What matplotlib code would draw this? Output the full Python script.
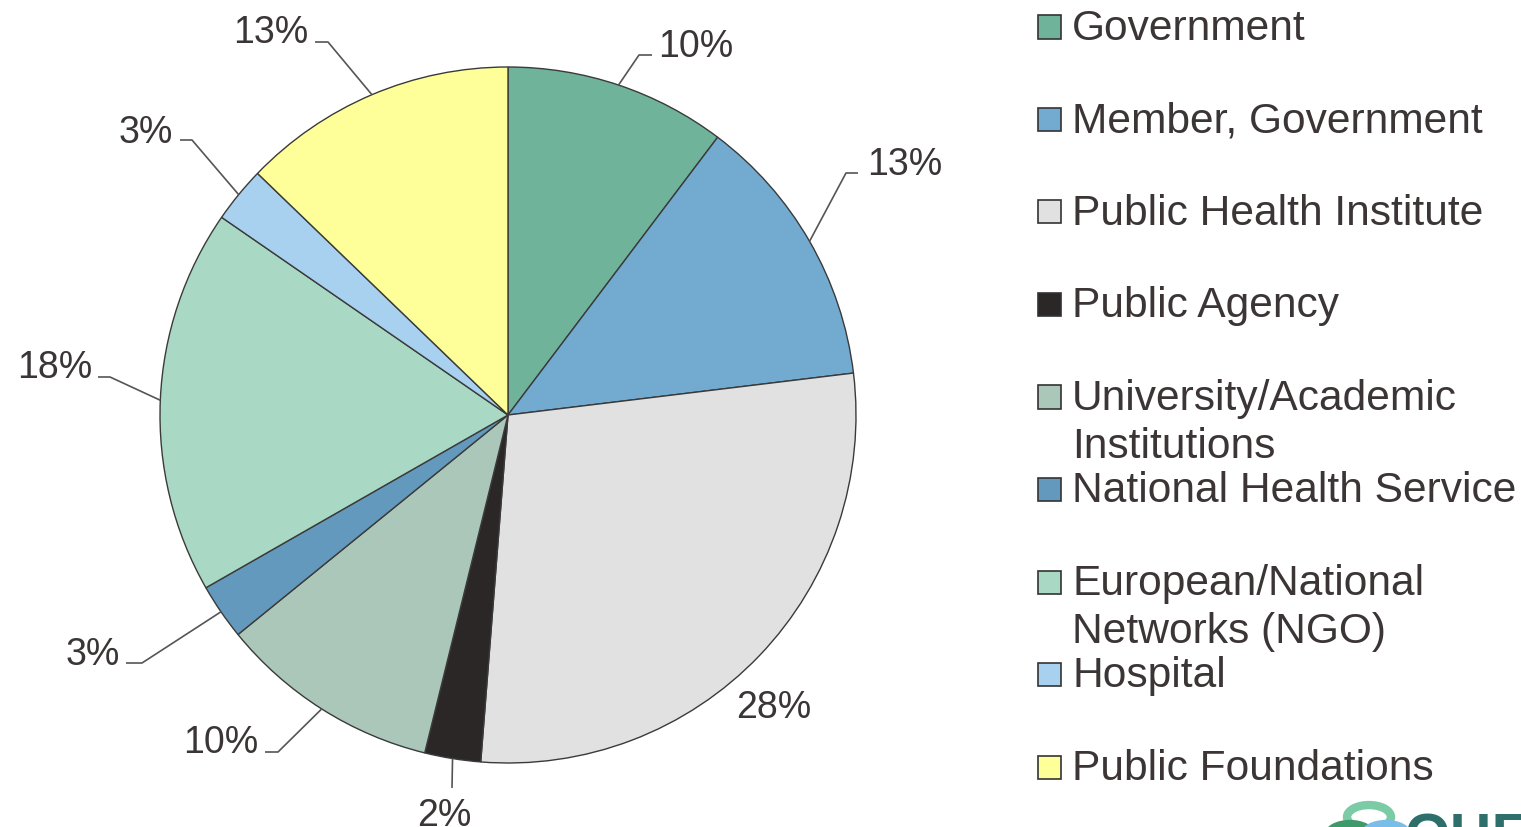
import numpy as np
import matplotlib
matplotlib.use("Agg")
import matplotlib.pyplot as plt
from matplotlib.patches import Rectangle, Circle

plt.rcParams['font.family'] = ['Liberation Sans', 'DejaVu Sans']

# ---- data ----
categories = ["Government", "Member, Government", "Public Health Institute",
              "Public Agency", "University/Academic\nInstitutions",
              "National Health Service", "European/National\nNetworks (NGO)",
              "Hospital", "Public Foundations"]
shares = [10.3, 12.8, 28.2, 2.6, 10.3, 2.6, 17.9, 2.6, 12.8]
pct_labels = ["10%", "13%", "28%", "2%", "10%", "3%", "18%", "3%", "13%"]
colors = ["#6FB39A", "#72AAD0", "#E1E1E1", "#2B2727", "#AAC7BA",
          "#6399BC", "#A9D9C4", "#A8D0EF", "#FFFF99"]

TXT = "#3B3536"
W, H = 1521, 827
CX, CY, R = 508, 415, 348   # pie centre / radius in pixels

fig = plt.figure(figsize=(W / 100, H / 100), dpi=100)
ax = fig.add_axes([0, 0, 1, 1])

def px(x, y):
    return (x - CX) / R, (CY - y) / R

wedges, _ = ax.pie(shares, colors=colors, startangle=90, counterclock=False,
                   radius=1.0, center=(0, 0),
                   wedgeprops=dict(edgecolor="#3A3A3A", linewidth=1.0))
ax.set_xlim(-CX / R, (W - CX) / R)
ax.set_ylim(-(H - CY) / R, CY / R)
ax.set_aspect('auto')
ax.axis('off')

# label layout (pixels): text anchor x, baseline y, ha; leader elbow & end (None = no leader)
lab_layout = [
    (658, 57, 'left', (639, 55), (652, 55)),
    (867, 175, 'left', (846, 173), (858, 173)),
    (736, 718, 'left', None, None),
    (417, 826, 'left', (452, 788), None),
    (258, 753, 'right', (278, 752), (265, 752)),
    (120, 665, 'right', (142, 663), (126, 663)),
    (92, 378, 'right', (110, 377), (98, 377)),
    (173, 143, 'right', (192, 140), (180, 140)),
    (308, 43, 'right', (328, 42), (315, 42)),
]

for w, lab, (tx, ty, ha, elbow, end) in zip(wedges, pct_labels, lab_layout):
    mid = np.deg2rad((w.theta1 + w.theta2) / 2)
    ex, ey = np.cos(mid), np.sin(mid)
    x0, y0 = px(tx, ty)
    ax.text(x0, y0, lab, ha=ha, va='baseline', fontsize=27, color=TXT)
    if elbow is not None:
        pts = [(ex, ey), px(*elbow)]
        if end is not None:
            pts.append(px(*end))
        xs, ys = zip(*pts)
        ax.plot(xs, ys, color="#555555", lw=1.2, solid_capstyle='butt')

# ---- legend (manual, Excel-like) ----
leg_x0, leg_y0, leg_step = 1038, 27, 92.5
for i, (cat, col) in enumerate(zip(categories, colors)):
    yc = leg_y0 + leg_step * i
    fig.patches.append(Rectangle((leg_x0 / W, 1 - (yc + 11.5) / H), 23 / W, 23 / H,
                                 transform=fig.transFigure, facecolor=col,
                                 edgecolor="#333333", linewidth=1.2))
    for j, line in enumerate(cat.split("\n")):
        fig.text(1072 / W, 1 - (yc + 13 + 48 * j) / H, line, ha='left',
                 va='baseline', fontsize=30.6, color=TXT)

# ---- partial logo bottom-right ----
for (cx, cy, r, c) in [(1369, 817, 22, "#7ACBA6"), (1350, 836, 22, "#3E9A6A"),
                       (1386, 836, 22, "#79BEE8")]:
    fig.patches.append(Circle((cx / W, 1 - cy / H), r / W, transform=fig.transFigure,
                              fill=False, edgecolor=c, linewidth=6))
fig.text(1405 / W, 1 - 855 / H, "OHE", ha='left', va='baseline', fontsize=42,
         color="#2F6F6B", fontweight='bold')

fig.savefig("out.png", dpi=100)
